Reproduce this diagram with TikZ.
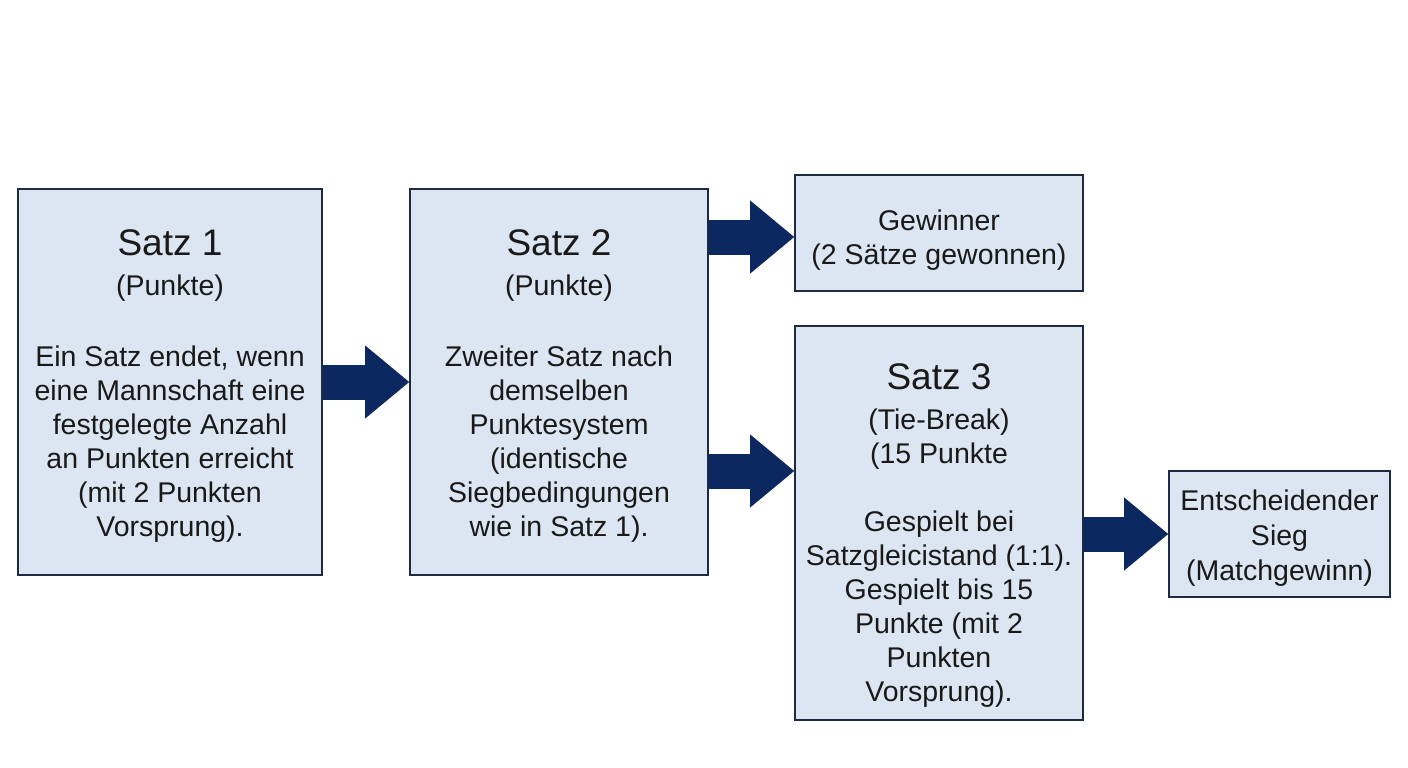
\documentclass[tikz,border=0pt]{standalone}
\usepackage{fontspec}
\setmainfont{Liberation Sans}
\usetikzlibrary{arrows.meta}
\definecolor{boxfill}{RGB}{220,230,242}
\definecolor{boxline}{RGB}{30,42,66}
\definecolor{navy}{RGB}{12,40,96}
\newcommand{\satztitle}[1]{{\fontsize{37}{42}\selectfont #1}}
\newcommand{\topgap}[1]{\rule{0pt}{#1}}

\begin{document}
\begin{tikzpicture}[x=1pt,y=-1pt,
	box/.style={draw=boxline, line width=1.6pt, fill=boxfill, align=center, inner sep=2pt,
		text=black!90, font=\fontsize{28.5}{34}\selectfont},
	flow/.style={draw=navy, line width=35pt, -{Triangle[width=73pt,length=44pt,line width=0pt]}}]
	\useasboundingbox (0,0) rectangle (1408,768);
	\node[box, minimum width=304, minimum height=386] (s1) at (170,382)
		{\topgap{34pt}\satztitle{Satz 1}\\[6pt](Punkte)\\[37pt]Ein Satz endet, wenn\\eine Mannschaft eine\\festgelegte Anzahl\\an Punkten erreicht\\(mit 2 Punkten\\Vorsprung).};
	\node[box, minimum width=298, minimum height=386] (s2) at (559,382)
		{\topgap{34pt}\satztitle{Satz 2}\\[6pt](Punkte)\\[37pt]Zweiter Satz nach\\demselben\\Punktesystem\\(identische\\Siegbedingungen\\wie in Satz 1).};
	\node[box, minimum width=288, minimum height=116] (gw) at (939,233)
		{\topgap{34pt}Gewinner\\(2 Sätze gewonnen)};
	\node[box, minimum width=288, minimum height=394] (s3) at (939,523)
		{\topgap{50pt}\satztitle{Satz 3}\\[6pt](Tie-Break)\\(15 Punkte\\[34pt]Gespielt bei\\Satzgleicistand (1:1).\\Gespielt bis 15\\Punkte (mit 2\\Punkten\\Vorsprung).};
	\node[box, minimum width=221, minimum height=126, font=\fontsize{28.5}{35}\selectfont] (e) at (1279.5,534)
		{\topgap{29pt}Entscheidender\\Sieg\\(Matchgewinn)};
	\coordinate (gwrow) at (0,237);
	\coordinate (tb) at (0,471);
	% Pfeile
	\draw[flow] (s1) -- (s2);
	\draw[flow] (s2.east |- gwrow) -- (gw.west |- gwrow);
	\draw[flow] (s2.east |- tb) -- (s3.west |- tb);
	\draw[flow] (s3.east |- e) -- (e.west);
\end{tikzpicture}
\end{document}
